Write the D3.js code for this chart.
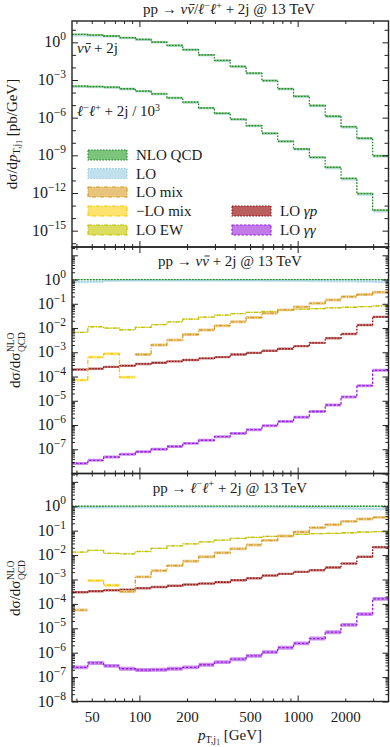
<!DOCTYPE html>
<html>
<head>
<meta charset="utf-8">
<script src="https://cdn.jsdelivr.net/npm/d3@7"></script>
<style>
  body { margin: 0; background: #fff; }
  svg text { font-family: "Liberation Serif", "DejaVu Serif", serif; fill: #1a1a1a; }
</style>
</head>
<body>
<div id="chart"></div>
<script>
//--------------------------------------------------
// Data
//--------------------------------------------------
// bin edges of p_T,j1 [GeV]
const binEdges = [37.5, 47.21, 59.43, 74.82, 94.19, 118.6, 149.3, 187.9, 236.6, 297.9,
    375.0, 472.1, 594.3, 748.2, 941.9, 1185.9, 1492.9, 1879.4, 2366.1, 2978.7, 3750];

// top panel: NLO QCD differential cross sections [pb/GeV]
const nloNunu = [4.3, 3.8, 3.2, 2.35, 1.7, 1.05, 0.57, 0.26, 0.10, 0.036,
    0.012, 3.5e-3, 9e-4, 2e-4, 5e-5, 9.3e-6, 1.3e-6, 1.9e-7, 2.3e-8, 9.3e-10];
const nloLL = [3.2e-4, 3.0e-4, 2.7e-4, 2.0e-4, 1.3e-4, 7.9e-5, 3.8e-5, 1.7e-5, 6e-6, 2.2e-6,
    7.4e-7, 2.3e-7, 5.7e-8, 1.3e-8, 3.2e-9, 6.9e-10, 1.1e-10, 1.45e-11, 9e-13, 4.3e-14]; // already / 10^3

// ratios to NLO QCD, nu nubar + 2j
const loNunu = [0.80, 0.83, 0.90, 0.92, 0.93, 0.93, 0.93, 0.93, 0.93, 0.92,
    0.92, 0.92, 0.91, 0.90, 0.90, 0.89, 0.87, 0.86, 0.85, 0.83];
const mixNunu = [null, null, null, null, 8.1e-4, 2.0e-3, 3.2e-3, 5.4e-3, 8.3e-3, 0.0125,
    0.018, 0.027, 0.041, 0.056, 0.074, 0.105, 0.144, 0.196, 0.24, 0.30];
const negMixNunu = [7.1e-5, 6.3e-4, 8.7e-4, 9.4e-5, null, null, null, null, null, null,
    null, null, null, null, null, null, null, null, null, null];
const ewNunu = [6.6e-3, 0.0113, 0.010, 8.5e-3, 0.0106, 0.0138, 0.018, 0.0234, 0.028, 0.034,
    0.039, 0.044, 0.048, 0.054, 0.060, 0.063, 0.068, 0.072, 0.077, 0.082];
const gpNunu = [1.94e-4, 2.1e-4, 2.5e-4, 2.8e-4, 3.3e-4, 3.7e-4, 4.2e-4, 4.8e-4, 5.6e-4, 6.3e-4,
    8.1e-4, 9.5e-4, 1.15e-3, 1.4e-3, 1.8e-3, 2.45e-3, 3.8e-3, 5.7e-3, 0.0133, 0.029];
const ggNunu = [2.6e-8, 3.5e-8, 4.8e-8, 6.2e-8, 7.9e-8, 1.0e-7, 1.3e-7, 1.75e-7, 2.35e-7, 3.3e-7,
    4.5e-7, 6.4e-7, 9.4e-7, 1.4e-6, 2.1e-6, 3.6e-6, 6.7e-6, 1.44e-5, 4.2e-5, 1.8e-4];

// ratios to NLO QCD, l- l+ + 2j
const loLL = [0.90, 0.90, 0.92, 0.93, 0.94, 0.94, 0.94, 0.94, 0.94, 0.94,
    0.94, 0.93, 0.93, 0.92, 0.90, 0.88, 0.85, 0.82, 0.80, 0.78];
const mixLL = [5.6e-5, null, null, 3.2e-4, 1.28e-3, 2.3e-3, 3.7e-3, 5.6e-3, 8.5e-3, 0.0124,
    0.018, 0.026, 0.040, 0.060, 0.088, 0.133, 0.176, 0.24, 0.30, 0.35];
const negMixLL = [null, 9e-4, 5.8e-4, null, null, null, null, null, null, null,
    null, null, null, null, null, null, null, null, null, null];
const ewLL = [0.0132, 0.0155, 0.0117, 0.0113, 0.014, 0.0187, 0.024, 0.029, 0.035, 0.041,
    0.048, 0.053, 0.058, 0.062, 0.070, 0.075, 0.077, 0.082, 0.088, 0.091];
const gpLL = [3.0e-4, 3.3e-4, 3.6e-4, 3.8e-4, 4.4e-4, 4.9e-4, 5.5e-4, 6.2e-4, 6.8e-4, 7.7e-4,
    9.3e-4, 1.12e-3, 1.45e-3, 1.7e-3, 2.05e-3, 2.4e-3, 3.1e-3, 4.5e-3, 8.5e-3, 0.021];
const ggLL = [2.5e-7, 3.8e-7, 2.9e-7, 2.2e-7, 1.95e-7, 2.0e-7, 2.2e-7, 2.5e-7, 3.2e-7, 4.1e-7,
    5.4e-7, 7.4e-7, 1.05e-6, 1.6e-6, 2.4e-6, 3.8e-6, 6.9e-6, 1.38e-5, 3.8e-5, 1.6e-4];

const nloRatio = binEdges.slice(1).map(() => 1);

const xLabels = [50, 100, 200, 500, 1000, 2000];

//--------------------------------------------------
// Styles
//--------------------------------------------------
const styles = {
    nlo:    { label: "NLO QCD", stroke: "#23862a", fill: "#7cc47c", dash: "1.6,1.4",       band: 1.04 },
    lo:     { label: "LO",      stroke: "#9fd0e2", fill: "#bfe0ec", dash: "1.6,1.4",       band: 1.12 },
    mix:    { label: "LO mix",  stroke: "#d49a22", fill: "#e8c47c", dash: "4,1.5,1,1.5",   band: 1.15 },
    negmix: { label: "\u2212LO mix", stroke: "#f2cc00", fill: "#ffe36e", dash: "4,1.5,1,1.5", band: 1.15 },
    ew:     { label: "LO EW",   stroke: "#c2c000", fill: "#dcdc5e", dash: "4,1.5,1,1.5",   band: 1.06 },
    gp:     { label: "LO ",     it: "\u03b3p", stroke: "#8e1616", fill: "#bb5e5e", dash: "1.6,1.4", band: 1.12 },
    gg:     { label: "LO ",     it: "\u03b3\u03b3", stroke: "#9a1ee6", fill: "#c27ae8", dash: "2.5,1.5", band: 1.18 }
};

//--------------------------------------------------
// Layout
//--------------------------------------------------
const W = 390, H = 747;
const left = 72, right = 388.5;

const svg = d3.select("#chart").append("svg")
    .attr("width", W)
    .attr("height", H);

const x = d3.scaleLog()
    .domain([binEdges[0], binEdges[binEdges.length - 1]])
    .range([left, right]);

const panels = [
    { top: 21,    bottom: 247,   domain: [5e-17, 50], labels: [0, -3, -6, -9, -12, -15] },
    { top: 247,   bottom: 473.5, domain: [1e-8, 22],  labels: [0, -1, -2, -3, -4, -5, -6, -7] },
    { top: 473.5, bottom: 701.5, domain: [1e-8, 22],  labels: [0, -1, -2, -3, -4, -5, -6, -7, -8] }
];
panels.forEach(p => {
    p.y = d3.scaleLog().domain(p.domain).range([p.bottom, p.top]);
});

function binPoints(vals) {
    const pts = [];
    vals.forEach((v, i) => {
        pts.push({ e: binEdges[i], v });
        pts.push({ e: binEdges[i + 1], v });
    });
    return pts;
}

function drawBand(g, y, vals, st, f) {
    const area = d3.area()
        .defined(d => d.v != null)
        .x(d => x(d.e))
        .y0(d => y(d.v / f))
        .y1(d => y(d.v * f));
    g.append("path")
        .datum(binPoints(vals))
        .attr("d", area)
        .attr("fill", st.fill)
        .attr("fill-opacity", 0.85)
        .attr("stroke", "none");
}

function drawLine(g, y, vals, st, width) {
    const line = d3.line()
        .defined(d => d.v != null)
        .x(d => x(d.e))
        .y(d => y(d.v));
    g.append("path")
        .datum(binPoints(vals))
        .attr("d", line)
        .attr("fill", "none")
        .attr("stroke", st.stroke)
        .attr("stroke-width", width || 1.3)
        .attr("stroke-dasharray", st.dash);
}

function drawSeries(g, y, vals, st, f) {
    drawBand(g, y, vals, st, f || st.band);
    drawLine(g, y, vals, st);
}

// clip paths
const defs = svg.append("defs");
panels.forEach((p, i) => {
    defs.append("clipPath").attr("id", "clip" + i)
        .append("rect")
        .attr("x", left).attr("y", p.top)
        .attr("width", right - left).attr("height", p.bottom - p.top);
    p.g = svg.append("g").attr("clip-path", `url(#clip${i})`);
});

//--------------------------------------------------
// Top panel: absolute distributions
//--------------------------------------------------
{
    const p = panels[0];
    const loAbsNunu = nloNunu.map((v, i) => v * loNunu[i]);
    const loAbsLL = nloLL.map((v, i) => v * loLL[i]);
    drawBand(p.g, p.y, loAbsNunu, styles.lo, 1.25);
    drawBand(p.g, p.y, loAbsLL, styles.lo, 1.25);
    drawSeries(p.g, p.y, nloNunu, styles.nlo, 1.2);
    drawSeries(p.g, p.y, nloLL, styles.nlo, 1.2);
}

//--------------------------------------------------
// Ratio panels
//--------------------------------------------------
function drawRatio(p, lo, mix, negMix, ew, gp, gg, ggBand) {
    drawBand(p.g, p.y, lo, styles.lo, 1.14);
    drawSeries(p.g, p.y, nloRatio, styles.nlo);
    drawLine(p.g, p.y, lo, styles.lo, 1);
    drawSeries(p.g, p.y, ew, styles.ew);
    drawSeries(p.g, p.y, gp, styles.gp);
    drawSeries(p.g, p.y, gg, styles.gg, ggBand);
    drawSeries(p.g, p.y, negMix, styles.negmix);
    drawSeries(p.g, p.y, mix, styles.mix);
}
drawRatio(panels[1], loNunu, mixNunu, negMixNunu, ewNunu, gpNunu, ggNunu, 1.15);
drawRatio(panels[2], loLL, mixLL, negMixLL, ewLL, gpLL, ggLL, 1.2);

//--------------------------------------------------
// Axes, ticks, frames
//--------------------------------------------------
const xMajor = [100, 1000];
const xMinor = [40, 50, 60, 70, 80, 90, 200, 300, 400, 500, 600, 700, 800, 900, 2000, 3000];

function tickAxis(axis, vals, len, transform) {
    const g = svg.append("g")
        .attr("transform", transform)
        .call(axis.tickValues(vals).tickSize(-len).tickFormat(""));
    g.select(".domain").remove();
    g.selectAll("line").attr("stroke", "#222").attr("stroke-width", 1);
}

panels.forEach((p, i) => {
    // x ticks top and bottom
    tickAxis(d3.axisBottom(x), xMajor, 6, `translate(0,${p.bottom})`);
    tickAxis(d3.axisBottom(x), xMinor, 3, `translate(0,${p.bottom})`);
    tickAxis(d3.axisTop(x), xMajor, 6, `translate(0,${p.top})`);
    tickAxis(d3.axisTop(x), xMinor, 3, `translate(0,${p.top})`);

    // y ticks
    const e0 = Math.ceil(Math.log10(p.domain[0]));
    const e1 = Math.floor(Math.log10(p.domain[1]));
    const major = [], minor = [];
    if (i === 0) {
        for (let e = e0; e <= e1; e++) {
            (p.labels.includes(e) ? major : minor).push(Math.pow(10, e));
        }
    } else {
        for (let e = e0 - 1; e <= e1; e++) {
            major.push(Math.pow(10, e));
            for (let k = 2; k <= 9; k++) {
                const v = k * Math.pow(10, e);
                if (v > p.domain[0] && v < p.domain[1]) minor.push(v);
            }
        }
    }
    const majF = major.filter(v => v >= p.domain[0] && v <= p.domain[1]);
    tickAxis(d3.axisLeft(p.y), majF, 6, `translate(${left},0)`);
    tickAxis(d3.axisLeft(p.y), minor, i === 0 ? 4 : 3, `translate(${left},0)`);
    tickAxis(d3.axisRight(p.y), majF, 6, `translate(${right},0)`);
    tickAxis(d3.axisRight(p.y), minor, i === 0 ? 4 : 3, `translate(${right},0)`);

    // y tick labels 10^n
    p.labels.forEach(e => {
        const t = svg.append("text")
            .attr("x", left - 6)
            .attr("y", p.y(Math.pow(10, e)) + 5)
            .attr("text-anchor", "end")
            .attr("font-size", "16px");
        t.append("tspan").text("10");
        t.append("tspan")
            .attr("dy", -7)
            .attr("font-size", "11.5px")
            .text(e === 0 ? "0" : "\u2212" + Math.abs(e));
    });

    // frame
    svg.append("rect")
        .attr("x", left).attr("y", p.top)
        .attr("width", right - left).attr("height", p.bottom - p.top)
        .attr("fill", "none")
        .attr("stroke", "#222")
        .attr("stroke-width", 1.4);
});

// x tick labels on bottom panel
{
    const g = svg.append("g")
        .attr("transform", `translate(0,${panels[2].bottom})`)
        .call(d3.axisBottom(x).tickValues(xLabels).tickSize(0).tickPadding(10).tickFormat(d3.format("d")));
    g.select(".domain").remove();
    g.selectAll("text")
        .attr("font-family", "Liberation Serif, serif")
        .attr("font-size", "15px")
        .attr("fill", "#1a1a1a");
}

//--------------------------------------------------
// Texts
//--------------------------------------------------
function addTspan(t, txt, opts = {}) {
    const s = t.append("tspan").text(txt);
    if (opts.it) s.attr("font-style", "italic");
    if (opts.size) s.attr("font-size", opts.size);
    if (opts.dy) s.attr("dy", opts.dy);
    return s;
}

// nu nubar, bar drawn as a short line above the second nu
const bars = [];
function nuNubar(t) {
    addTspan(t, "\u03bd", { it: true });
    const s = addTspan(t, "\u03bd", { it: true });
    bars.push({ t, s });
}

function leptons(t) {
    addTspan(t, "\u2113", { it: true });
    addTspan(t, "\u2212", { size: "10px", dy: -5.5 });
    addTspan(t, "\u2113", { it: true, dy: 5.5 });
    addTspan(t, "+", { size: "10px", dy: -5.5 });
}

// main title
{
    const t = svg.append("text").attr("x", 229).attr("y", 14)
        .attr("text-anchor", "middle").attr("font-size", "15px");
    addTspan(t, "pp \u2192 ");
    nuNubar(t);
    addTspan(t, "/");
    leptons(t);
    addTspan(t, " + 2j @ 13 TeV", { dy: 5.5 });
}

// panel titles
{
    const t = svg.append("text").attr("x", 230).attr("y", 265.5)
        .attr("text-anchor", "middle").attr("font-size", "15px");
    addTspan(t, "pp \u2192 ");
    nuNubar(t);
    addTspan(t, " + 2j @ 13 TeV");
}
{
    const t = svg.append("text").attr("x", 230).attr("y", 492.5)
        .attr("text-anchor", "middle").attr("font-size", "15px");
    addTspan(t, "pp \u2192 ");
    leptons(t);
    addTspan(t, " + 2j @ 13 TeV", { dy: 5.5 });
}

// process labels in top panel
{
    const t = svg.append("text").attr("x", 77).attr("y", 53).attr("font-size", "15px");
    nuNubar(t);
    addTspan(t, " + 2j");
}
{
    const t = svg.append("text").attr("x", 77).attr("y", 116).attr("font-size", "15px");
    leptons(t);
    addTspan(t, " + 2j / 10", { dy: 5.5 });
    addTspan(t, "3", { size: "10px", dy: -5.5 });
}

bars.forEach(({ t, s }) => {
    const ext = s.node().getExtentOfChar(0);
    const base = +t.attr("y");
    svg.append("line")
        .attr("x1", ext.x + 2.2).attr("x2", ext.x + ext.width + 0.8)
        .attr("y1", base - 9.5).attr("y2", base - 9.5)
        .attr("stroke", "#1a1a1a")
        .attr("stroke-width", 0.9);
});

// legend
const legendItems = [
    { key: "nlo", col: 0, row: 0 },
    { key: "lo", col: 0, row: 1 },
    { key: "mix", col: 0, row: 2 },
    { key: "negmix", col: 0, row: 3 },
    { key: "ew", col: 0, row: 4 },
    { key: "gp", col: 1, row: 3 },
    { key: "gg", col: 1, row: 4 }
];
const legRows = [155, 173.5, 192, 211, 230];
const legCols = [88, 232];
legendItems.forEach(d => {
    const st = styles[d.key];
    const cx = legCols[d.col], cy = legRows[d.row];
    svg.append("rect")
        .attr("x", cx).attr("y", cy - 5)
        .attr("width", 39).attr("height", 10)
        .attr("fill", st.fill)
        .attr("stroke", st.stroke)
        .attr("stroke-width", 1.1)
        .attr("stroke-dasharray", st.dash);
    const t = svg.append("text")
        .attr("x", cx + 48).attr("y", cy + 5)
        .attr("font-size", "15px");
    addTspan(t, st.label);
    if (st.it) addTspan(t, st.it, { it: true });
});

// y axis labels
{
    const t = svg.append("text")
        .attr("transform", `translate(17,${(panels[0].top + panels[0].bottom) / 2}) rotate(-90)`)
        .attr("text-anchor", "middle")
        .attr("font-size", "15px");
    addTspan(t, "d\u03c3/d");
    addTspan(t, "p", { it: true });
    addTspan(t, "T,j", { size: "10px", dy: 3 });
    addTspan(t, "1", { size: "7.5px", dy: 1.5 });
    addTspan(t, " [pb/GeV]", { dy: -4.5 });
}

function ratioLabel(cy) {
    const g = svg.append("g").attr("transform", `translate(20,${cy}) rotate(-90)`);
    const main = g.append("text").attr("x", 0).attr("y", 0).attr("font-size", "15px").text("d\u03c3/d\u03c3");
    const L = main.node().getComputedTextLength();
    const sup = g.append("text").attr("x", L + 0.5).attr("y", -6.5).attr("font-size", "9.5px").text("NLO");
    const sub = g.append("text").attr("x", L + 0.5).attr("y", 4.5).attr("font-size", "9.5px").text("QCD");
    const total = L + 0.5 + Math.max(sup.node().getComputedTextLength(), sub.node().getComputedTextLength());
    g.selectAll("text").attr("transform", `translate(${-total / 2},0)`);
}
ratioLabel(360);
ratioLabel(588);

// x axis label
{
    const t = svg.append("text").attr("x", 230).attr("y", 740)
        .attr("text-anchor", "middle").attr("font-size", "15px");
    addTspan(t, "p", { it: true });
    addTspan(t, "T,j", { size: "10px", dy: 3 });
    addTspan(t, "1", { size: "7.5px", dy: 1.5 });
    addTspan(t, " [GeV]", { dy: -4.5 });
}
</script>
</body>
</html>
